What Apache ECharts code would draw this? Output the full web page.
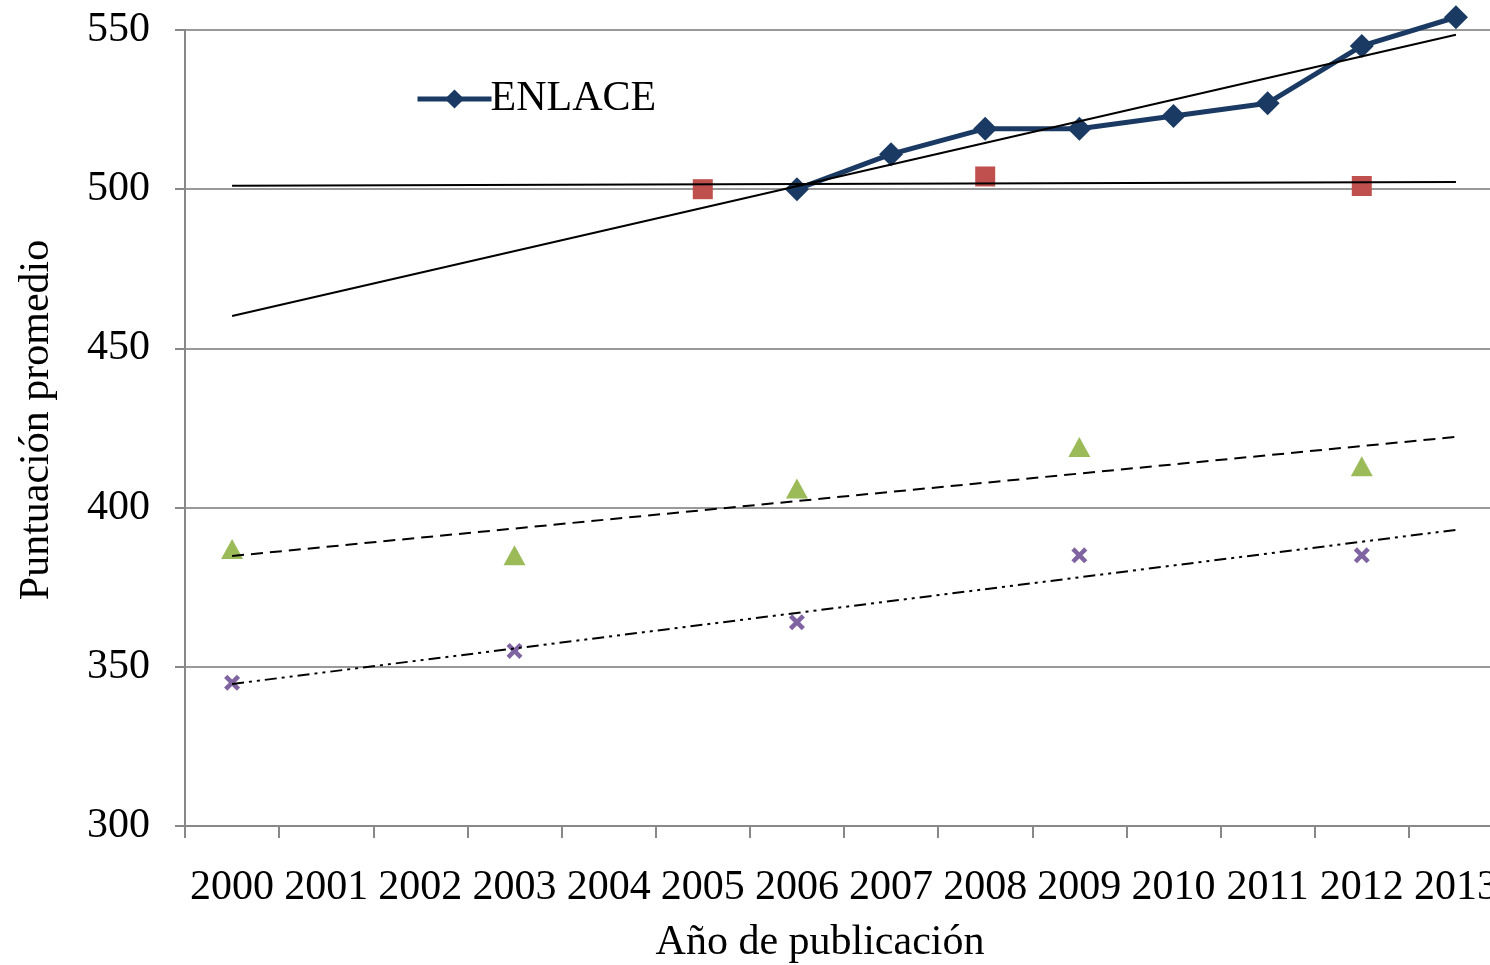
<!DOCTYPE html>
<html>
<head>
<meta charset="utf-8">
<script src="https://cdn.jsdelivr.net/npm/echarts@6/dist/echarts.min.js"></script>
<style>html,body{margin:0;padding:0;background:#fff;}#c{width:1490px;height:965px;}</style>
</head>
<body>
<div id="c"></div>
<script>
const years = ['2000','2001','2002','2003','2004','2005','2006','2007','2008','2009','2010','2011','2012','2013'];
const enlace = [null,null,null,null,null,null,500,511,519,519,523,527,545,554];
const redSquares = [null,null,null,null,null,500,null,null,504,null,null,null,501,null];
const greenTriangles = [387,null,null,385,null,null,406,null,null,419,null,null,413,null];
const purpleCrosses = [345,null,null,355,null,null,364,null,null,385,null,null,385,null];
// trend line endpoints: [category index, value]
const enlaceTrend = [[0,460.2],[13,548.5]];
const redTrend = [[0,501.1],[13,502.3]];
const greenTrend = [[0,384.8],[13,422.2]];
const purpleTrend = [[0,344.6],[13,393.0]];
const yTicks = {min:300, max:550, interval:50};

const FONT = 'Liberation Serif';
const crossPath = 'path://M2,0L5,3L8,0L10,2L7,5L10,8L8,10L5,7L2,10L0,8L3,5L0,2Z';
const chart = echarts.init(document.getElementById('c'));
chart.setOption({
  backgroundColor:'#fff',
  animation:false,
  textStyle:{fontFamily:FONT,color:'#000'},
  grid:{left:185, top:30, bottom:139, right:-13, containLabel:false, outerBoundsMode:'none'},
  legend:{
    data:['ENLACE'], left:410, top:73, itemWidth:74, itemHeight:24,
    lineStyle:{width:5},
    textStyle:{fontFamily:FONT,fontSize:42,color:'#000',padding:[0,0,0,-6]}
  },
  xAxis:{
    type:'category', data:years, boundaryGap:true,
    axisLine:{lineStyle:{color:'#888',width:2}},
    axisTick:{show:true,length:12,lineStyle:{color:'#888',width:2},alignWithLabel:false},
    axisLabel:{fontFamily:FONT,fontSize:42,color:'#000',margin:41,interval:0},
    name:'Año de publicación', nameLocation:'middle', nameGap:96,
    nameTextStyle:{fontFamily:FONT,fontSize:42,color:'#000',padding:[0,48,0,0]}
  },
  yAxis:{
    type:'value', min:yTicks.min, max:yTicks.max, interval:yTicks.interval,
    axisLine:{show:true,lineStyle:{color:'#888',width:2}},
    axisTick:{show:true,length:10,lineStyle:{color:'#888',width:2}},
    splitLine:{lineStyle:{color:'#999',width:2}},
    axisLabel:{fontFamily:FONT,fontSize:42,color:'#000',margin:35},
    name:'Puntuación promedio', nameLocation:'middle', nameGap:127,
    nameTextStyle:{fontFamily:FONT,fontSize:42,color:'#000',padding:[0,0,0,16]}
  },
  series:[
    {name:'ENLACE', type:'line', data:enlace, symbol:'diamond', symbolSize:24, clip:false,
     itemStyle:{color:'#1B3A63'}, lineStyle:{color:'#1B3A63',width:5}, z:3},
    {name:'PISA', type:'scatter', data:redSquares, symbol:'rect', symbolSize:20,
     itemStyle:{color:'#C0504D',opacity:1}, z:2},
    {name:'TIMSS', type:'scatter', data:greenTriangles, symbol:'triangle', symbolSize:[22,20],
     itemStyle:{color:'#9BBB59',opacity:1}, z:2},
    {name:'LLECE', type:'scatter', data:purpleCrosses, symbol:crossPath, symbolSize:16,
     itemStyle:{color:'#8064A2',opacity:1}, z:2},
    {name:'t1', type:'line', data:enlaceTrend, symbol:'none', lineStyle:{color:'#000',width:2}, z:4, silent:true},
    {name:'t2', type:'line', data:redTrend, symbol:'none', lineStyle:{color:'#000',width:2}, z:4, silent:true},
    {name:'t3', type:'line', data:greenTrend, symbol:'none', lineStyle:{color:'#000',width:2,type:[12,7]}, z:4, silent:true},
    {name:'t4', type:'line', data:purpleTrend, symbol:'none', lineStyle:{color:'#000',width:2,type:[12,5,3,5,3,5]}, z:4, silent:true}
  ]
});
</script>
</body>
</html>
